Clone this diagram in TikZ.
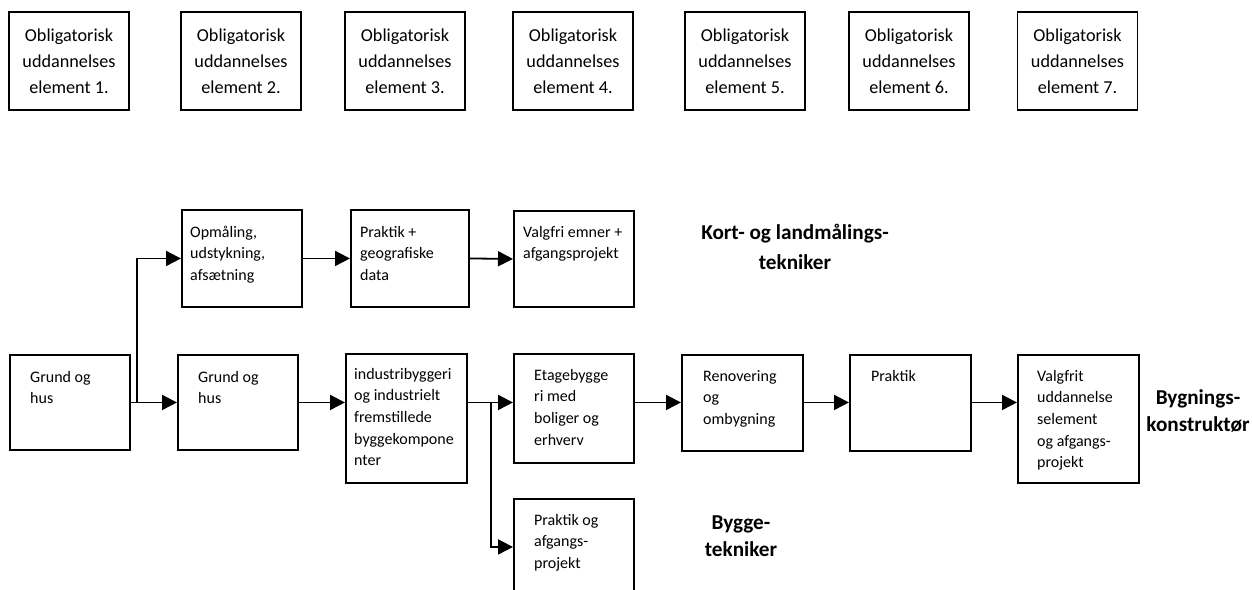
\documentclass[tikz,border=0pt]{standalone}
\usepackage{fontspec}
\setmainfont{Carlito}
\usetikzlibrary{arrows.meta,calc}
\newcommand{\tl}[1]{\begin{tabular}[t]{@{}l@{}}#1\end{tabular}}
\tikzset{
  box/.style={draw, line width=1.9pt, inner sep=0pt, anchor=north west},
  obox/.style={draw, line width=1.9pt, inner sep=0pt, minimum width=120pt, minimum height=98pt,
     align=center, font=\fontsize{18.2}{26}\selectfont},
  txt/.style={inner sep=0pt, anchor=base west, font=\fontsize{16}{21.7}\selectfont},
  lbl/.style={inner sep=0pt, align=center, font=\bfseries\fontsize{21.2}{30}\selectfont},
  conn/.style={line width=1.8pt},
  arr/.style={line width=1.8pt, -{Triangle[length=15pt,width=15pt]}},
}
\begin{document}
\begin{tikzpicture}[x=1pt,y=-1pt]
\useasboundingbox (0,0) rectangle (1252,589);
\clip (0,0) rectangle (1252,589);
% top row
\node[obox] (o1) at (69,61) {Obligatorisk\\uddannelses\\element 1.};
\node[obox] (o2) at (241,61) {Obligatorisk\\uddannelses\\element 2.};
\node[obox] (o3) at (405,61) {Obligatorisk\\uddannelses\\element 3.};
\node[obox] (o4) at (573,61) {Obligatorisk\\uddannelses\\element 4.};
\node[obox] (o5) at (745,61) {Obligatorisk\\uddannelses\\element 5.};
\node[obox] (o6) at (909,61) {Obligatorisk\\uddannelses\\element 6.};
\node[obox] (o7) at (1077.5,61) {Obligatorisk\\uddannelses\\element 7.};
% upper branch
\node[box, minimum width=120pt, minimum height=97pt] (op) at (181,209) {};
\node[txt] (top) at (190,237) {\tl{Opmåling,\\udstykning,\\afsætning}};
\node[box, minimum width=118pt, minimum height=97pt] (pg) at (350,209) {};
\node[txt] (tpg) at (360,237) {\tl{Praktik +\\geografiske\\data}};
\node[box, minimum width=120pt, minimum height=96pt] (vf) at (513,210) {};
\node[txt] (tvf) at (523,237) {\tl{Valgfri emner +\\afgangsprojekt}};
\node[lbl] (kort) at (795,247) {Kort- og landmålings-\\tekniker};
% main row
\node[box, minimum width=120pt, minimum height=95pt] (g1) at (9,354) {};
\node[txt] (tg1) at (30,382) {\tl{Grund og\\hus}};
\node[box, minimum width=120pt, minimum height=95pt] (g2) at (177,354) {};
\node[txt] (tg2) at (198,382) {\tl{Grund og\\hus}};
\node[box, minimum width=121pt, minimum height=129pt] (ind) at (345,353) {};
\node[txt] (tind) at (354,379) {\tl{industribyggeri\\og industrielt\\fremstillede\\byggekompone\\nter}};
\node[box, minimum width=120pt, minimum height=109pt] (et) at (513,353) {};
\node[txt] (tet) at (534,380) {\tl{Etagebygge\\ri med\\boliger og\\erhverv}};
\node[box, minimum width=120pt, minimum height=96pt] (pa) at (513,498) {};
\node[txt] (tpa) at (534,525) {\tl{Praktik og\\afgangs-\\projekt}};
\node[lbl, font=\bfseries\fontsize{21.2}{27}\selectfont] (bt) at (741,536) {Bygge-\\tekniker};
\node[box, minimum width=121pt, minimum height=96pt] (re) at (681,354) {};
\node[txt] (tre) at (703,381) {\tl{Renovering\\og\\ombygning}};
\node[box, minimum width=121pt, minimum height=96pt] (pr) at (849,354) {};
\node[txt] (tpr) at (871,381) {\tl{Praktik}};
\node[box, minimum width=121pt, minimum height=128pt] (va) at (1017,354) {};
\node[txt] (tva) at (1037,381) {\tl{Valgfrit\\uddannelse\\selement\\og afgangs-\\projekt}};
\node[lbl, font=\bfseries\fontsize{21.2}{26.5}\selectfont] (bk) at (1198,411) {Bygnings-\\konstruktør};
% connectors
\coordinate (j1) at ($(g1.east)+(6,0)$);
\coordinate (j2) at ($(ind.east |- g2.east)+(23,0)$);
\draw[arr] (g1.east) -- (g2.west);
\draw[arr] (j1) |- (op.west);
\draw[arr] (op.east) -- (pg.west);
\draw[arr] (pg.east) -- (vf.west);
\draw[arr] (g2.east) -- (ind.west |- g2.east);
\draw[arr] (ind.east |- g2.east) -- (et.west |- g2.east);
\draw[arr] (j2) |- (pa.west);
\draw[arr] (et.east |- g2.east) -- (re.west |- g2.east);
\draw[arr] (re.east |- g2.east) -- (pr.west |- g2.east);
\draw[arr] (pr.east |- g2.east) -- (va.west |- g2.east);
\end{tikzpicture}
\end{document}
